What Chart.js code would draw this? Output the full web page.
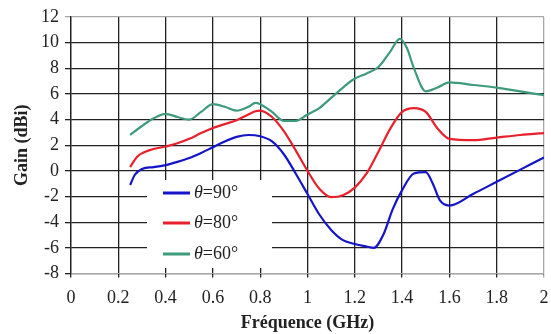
<!DOCTYPE html>
<html>
<head>
<meta charset="utf-8">
<script src="https://cdn.jsdelivr.net/npm/chart.js@4.4.1/dist/chart.umd.min.js"></script>
<style>
    html, body { margin: 0; padding: 0; background: #fff; }
    #wrap { width: 551px; height: 334px; }
</style>
</head>
<body>
<div id="wrap"><canvas id="gainChart" width="551" height="334"></canvas></div>
<script>
// Gain (dBi) vs frequency (GHz)
const freq90 = [0.25, 0.27, 0.3, 0.35, 0.4, 0.45, 0.5, 0.55, 0.6, 0.65, 0.7, 0.75, 0.8, 0.85, 0.9, 0.95, 1.0, 1.05, 1.1, 1.15, 1.2, 1.25, 1.28, 1.32, 1.36, 1.4, 1.45, 1.5, 1.53, 1.56, 1.6, 1.7, 1.8, 1.9, 2.0];
const gain90 = [-1.1, -0.3, 0.15, 0.3, 0.45, 0.7, 1.0, 1.4, 1.85, 2.3, 2.65, 2.8, 2.7, 2.3, 1.3, -0.2, -1.8, -3.4, -4.6, -5.4, -5.7, -5.9, -6.0, -5.0, -3.0, -1.5, -0.2, -0.1, -1.0, -2.3, -2.7, -1.8, -0.85, 0.1, 1.05];

const freq80 = [0.25, 0.28, 0.33, 0.4, 0.45, 0.5, 0.55, 0.6, 0.65, 0.7, 0.75, 0.78, 0.8, 0.85, 0.9, 0.95, 1.0, 1.05, 1.1, 1.15, 1.2, 1.25, 1.3, 1.35, 1.4, 1.45, 1.5, 1.55, 1.6, 1.7, 1.8, 1.9, 2.0];
const gain80 = [0.3, 1.1, 1.6, 1.9, 2.15, 2.5, 2.95, 3.35, 3.65, 3.95, 4.4, 4.65, 4.7, 4.2, 3.1, 1.6, 0.0, -1.4, -2.05, -1.9, -1.3, -0.2, 1.5, 3.3, 4.6, 4.9, 4.6, 3.3, 2.5, 2.4, 2.6, 2.8, 2.95];

const freq60 = [0.25, 0.3, 0.35, 0.4, 0.45, 0.5, 0.55, 0.6, 0.65, 0.7, 0.75, 0.78, 0.8, 0.85, 0.9, 0.95, 1.0, 1.05, 1.1, 1.15, 1.2, 1.25, 1.3, 1.35, 1.39, 1.42, 1.45, 1.5, 1.55, 1.6, 1.7, 1.8, 1.9, 2.0];
const gain60 = [2.8, 3.5, 4.1, 4.45, 4.2, 4.0, 4.6, 5.2, 5.0, 4.7, 5.0, 5.3, 5.2, 4.6, 3.9, 3.9, 4.4, 4.9, 5.7, 6.5, 7.2, 7.6, 8.1, 9.3, 10.3, 9.6, 8.0, 6.2, 6.5, 6.9, 6.7, 6.5, 6.2, 5.9];

const seriesAngles = ["90°", "80°", "60°"];
const seriesColors = ["#1414c8", "#e8202c", "#3d9a7c"];

function toPoints(xs, ys) {
    return xs.map((x, i) => ({ x: x, y: ys[i] }));
}

// Legend drawn inside the plot, on a white box
const insideLegend = {
    id: "insideLegend",
    afterDatasetsDraw(chart) {
        const ctx = chart.ctx;
        const area = chart.chartArea;
        const left = area.left + 76;
        const top = area.top + 163;
        ctx.save();
        ctx.fillStyle = "#fff";
        ctx.fillRect(left, top, 125, 88);
        const rows = [top + 13, top + 43, top + 74];
        rows.forEach((y, i) => {
            ctx.strokeStyle = seriesColors[i];
            ctx.lineWidth = 3;
            ctx.beginPath();
            ctx.moveTo(left + 16, y);
            ctx.lineTo(left + 43, y);
            ctx.stroke();
            ctx.fillStyle = "#222";
            ctx.textBaseline = "middle";
            ctx.font = "italic 18px 'Liberation Serif'";
            ctx.fillText("θ", left + 47, y);
            const w = ctx.measureText("θ").width;
            ctx.font = "18px 'Liberation Serif'";
            ctx.fillText("=" + seriesAngles[i], left + 47 + w, y);
        });
        ctx.restore();
    }
};

function gridColor(edge) {
    return function (c) {
        if (c.tick && c.tick.value === edge) return "#a8a8a8";
        return "#222";
    };
}

const ctx = document.getElementById("gainChart").getContext("2d");
new Chart(ctx, {
    type: "line",
    data: {
        datasets: [
            { label: "θ=90°", data: toPoints(freq90, gain90), borderColor: seriesColors[0] },
            { label: "θ=80°", data: toPoints(freq80, gain80), borderColor: seriesColors[1] },
            { label: "θ=60°", data: toPoints(freq60, gain60), borderColor: seriesColors[2] }
        ]
    },
    options: {
        responsive: false,
        animation: false,
        devicePixelRatio: 1,
        layout: { padding: { left: 0, right: 7, top: 17, bottom: 0 } },
        elements: {
            line: { borderWidth: 2.2, tension: 0.4, cubicInterpolationMode: "monotone" },
            point: { radius: 0 }
        },
        plugins: {
            legend: { display: false },
            tooltip: { enabled: false }
        },
        scales: {
            x: {
                type: "linear",
                min: 0,
                max: 2,
                afterFit: s => { s.height = 60.5; s.paddingLeft = 0; s.paddingRight = 0; },
                border: { color: "#a8a8a8", width: 1 },
                grid: { color: gridColor(2), lineWidth: 1.3, tickLength: 4 },
                ticks: {
                    stepSize: 0.2,
                    padding: 10,
                    color: "#222",
                    font: { family: "'Liberation Serif'", size: 18 },
                    callback: v => String(+v.toFixed(1))
                },
                title: {
                    display: true,
                    text: "Fréquence (GHz)",
                    color: "#222",
                    padding: { top: 0, bottom: 0 },
                    font: { family: "'Liberation Serif'", size: 18, weight: "bold" }
                }
            },
            y: {
                min: -8,
                max: 12,
                afterFit: s => { s.width = 71; s.paddingTop = 0; s.paddingBottom = 0; },
                border: { color: "#222", width: 1.3 },
                grid: { color: gridColor(12), lineWidth: 1.3, tickLength: 6 },
                ticks: {
                    stepSize: 2,
                    padding: 6,
                    color: "#222",
                    font: { family: "'Liberation Serif'", size: 18 }
                },
                title: {
                    display: true,
                    text: "Gain (dBi)",
                    color: "#222",
                    padding: { top: 12, bottom: 0 },
                    font: { family: "'Liberation Serif'", size: 18, weight: "bold" }
                }
            }
        }
    },
    plugins: [insideLegend]
});
</script>
</body>
</html>
